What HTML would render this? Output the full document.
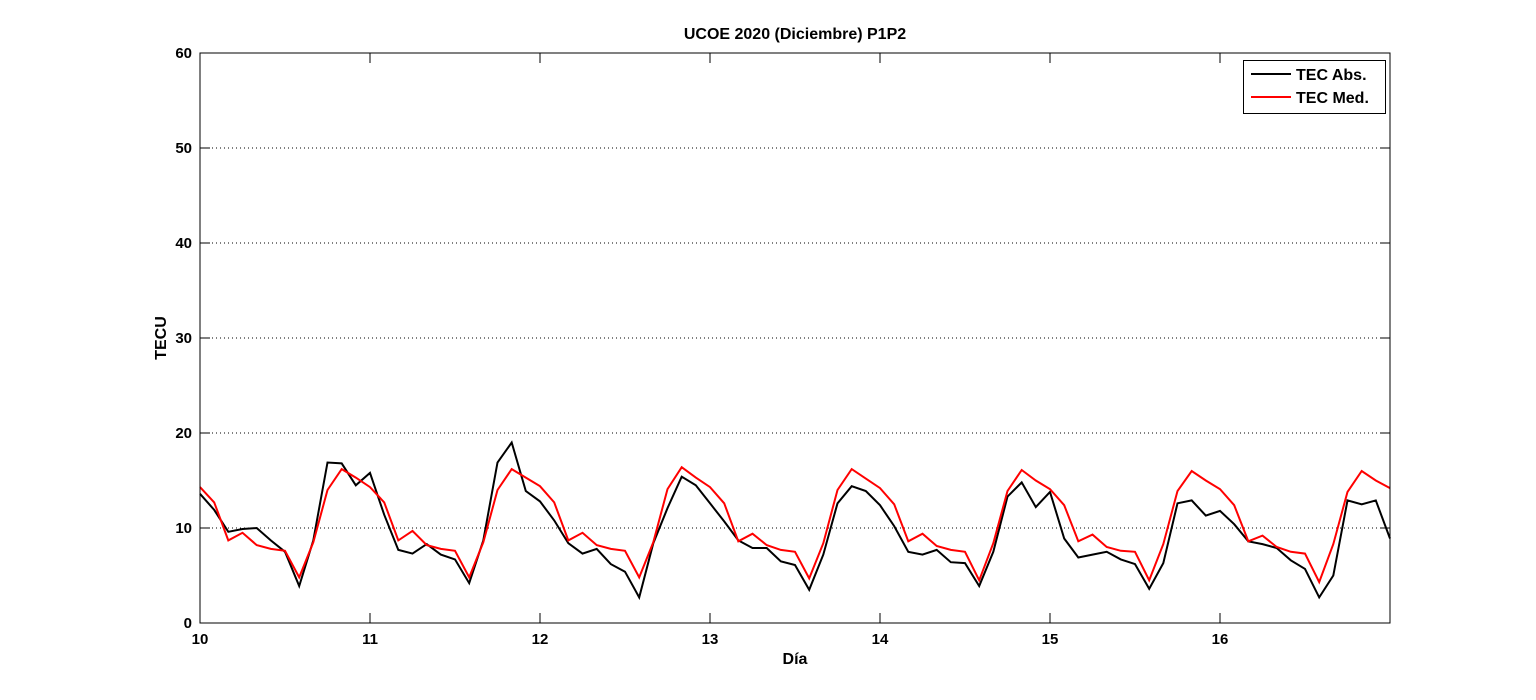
<!DOCTYPE html>
<html><head><meta charset="utf-8"><style>
body{margin:0;background:#fff;}
svg{display:block;font-family:"Liberation Sans",Arial,sans-serif;font-weight:bold;}
</style></head><body>
<svg id="chart" width="1536" height="700" xmlns="http://www.w3.org/2000/svg"></svg>
<script>
const xTicks=[10,11,12,13,14,15,16];
const yTicks=[0,10,20,30,40,50,60];
const tecAbs=[13.6,11.9,9.6,9.9,10.0,8.7,7.5,3.9,8.7,16.9,16.8,14.5,
15.8,11.4,7.7,7.3,8.3,7.2,6.7,4.2,8.7,16.9,19.0,13.9,
12.8,10.8,8.4,7.3,7.8,6.2,5.4,2.7,8.4,12.1,15.4,14.5,
12.6,10.7,8.7,7.9,7.9,6.5,6.1,3.5,7.2,12.6,14.4,13.9,
12.4,10.2,7.5,7.2,7.7,6.4,6.3,3.9,7.5,13.3,14.8,12.2,
13.8,8.9,6.9,7.2,7.5,6.7,6.2,3.6,6.3,12.6,12.9,11.3,
11.8,10.4,8.6,8.3,7.9,6.6,5.7,2.7,5.0,12.9,12.5,12.9,8.9];
const tecMed=[14.3,12.7,8.7,9.5,8.2,7.8,7.6,4.8,8.5,14.0,16.2,15.3,
14.3,12.7,8.7,9.7,8.2,7.8,7.6,4.8,8.5,14.0,16.2,15.3,
14.4,12.7,8.7,9.5,8.2,7.8,7.6,4.8,8.5,14.1,16.4,15.3,
14.3,12.6,8.6,9.4,8.2,7.7,7.5,4.7,8.4,14.0,16.2,15.2,
14.2,12.5,8.6,9.4,8.1,7.7,7.5,4.5,8.4,13.9,16.1,15.0,
14.1,12.4,8.6,9.3,8.0,7.6,7.5,4.5,8.3,13.9,16.0,15.0,
14.1,12.4,8.6,9.2,8.0,7.5,7.3,4.3,8.3,13.8,16.0,15.0,14.2];
const L=200,R=1390,T=53,B=623;
const sx=d=>L+(d-10)/7*(R-L);
const sy=v=>B-v/60*(B-T);
const NS="http://www.w3.org/2000/svg";
const svg=document.getElementById('chart');
function mk(tag,attrs,parent){const e=document.createElementNS(NS,tag);for(const k in attrs)e.setAttribute(k,attrs[k]);(parent||svg).appendChild(e);return e;}
const bg=mk('rect',{x:L,y:T,width:R-L,height:B-T,fill:'#fff'});


yTicks.forEach(v=>{
  const y=sy(v);
  if(v>0&&v<60){const g=mk('line',{x1:L,x2:R,y1:y,y2:y,stroke:'#000','stroke-width':1,'stroke-dasharray':'1,3'});
  
  }
  mk('line',{x1:L,x2:L+10,y1:y,y2:y,stroke:'#000'});
  mk('line',{x1:R-10,x2:R,y1:y,y2:y,stroke:'#000'});
  const t=mk('text',{x:L-8,y:y+5,'text-anchor':'end','font-size':15});
  t.textContent=v;
  
  
});
xTicks.forEach(d=>{
  const x=sx(d);
  mk('line',{x1:x,x2:x,y1:B,y2:B-10,stroke:'#000'});
  mk('line',{x1:x,x2:x,y1:T,y2:T+10,stroke:'#000'});
  const t=mk('text',{x:x,y:B+21,'text-anchor':'middle','font-size':15});
  t.textContent=d;
  
  
});
function series(arr,color,name){
  const pts=arr.map((v,i)=>sx(10+i/12).toFixed(1)+','+sy(v).toFixed(1)).join(' ');
  const p=mk('polyline',{points:pts,fill:'none',stroke:color,'stroke-width':2,'stroke-linejoin':'miter'});
  
  
}
series(tecAbs,'#000','tec-abs-line');
series(tecMed,'#f00','tec-med-line');
const fr=mk('rect',{x:L,y:T,width:R-L,height:B-T,fill:'none',stroke:'#000','stroke-width':1});


const title=mk('text',{x:795,y:39,'text-anchor':'middle','font-size':16});
title.textContent='UCOE 2020 (Diciembre) P1P2';


const xl=mk('text',{x:795,y:664,'text-anchor':'middle','font-size':16});
xl.textContent='Día';


const yl=mk('text',{x:0,y:0,'text-anchor':'middle','font-size':16,transform:'translate(166,338) rotate(-90)'});
yl.textContent='TECU';


const lg=mk('g',{});


mk('rect',{x:1243.5,y:60.5,width:142,height:53,fill:'#fff',stroke:'#000'},lg);
[['TEC Abs.','#000',74],['TEC Med.','#f00',97]].forEach(([lab,c,y])=>{
  const ln=mk('line',{x1:1251,x2:1291,y1:y,y2:y,stroke:c,'stroke-width':2},lg);
  
  
  const t=mk('text',{x:1296,y:y+6,'font-size':16},lg);
  t.textContent=lab;
  
  
});
</script>
</body></html>
